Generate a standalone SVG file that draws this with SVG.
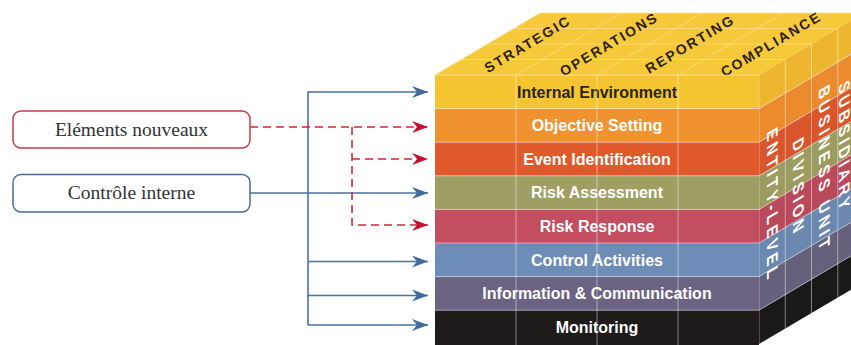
<svg xmlns="http://www.w3.org/2000/svg" width="851" height="345" viewBox="0 0 851 345">
  <style>
    .box { fill: #ffffff; stroke-width: 1.5; }
    .boxlabel { font-family: "Liberation Serif", "Times New Roman", serif; font-size: 19.5px; fill: #333333; text-anchor: middle; }
    .front { font-family: "Liberation Sans", Arial, sans-serif; font-weight: bold; font-size: 16px; fill: #ffffff; text-anchor: middle; }
    .toplabel { font-family: "Liberation Sans", Arial, sans-serif; font-weight: bold; font-size: 14px; fill: #2e2312; text-anchor: middle; letter-spacing: 2px; }
    .sidelabel { font-family: "Liberation Sans", Arial, sans-serif; font-weight: bold; font-size: 15.5px; fill: #ffffff; text-anchor: middle; letter-spacing: 3.5px; }
    .grid { stroke: #ffffff; stroke-opacity: 0.45; stroke-width: 1; fill: none; }
    .topgrid { stroke: #ffffff; stroke-opacity: 0.3; stroke-width: 1; fill: none; }
    .blue { stroke: #4a72a2; stroke-width: 1.6; fill: none; }
    .red { stroke: #cc2a3a; stroke-width: 1.6; fill: none; stroke-dasharray: 8 5; }
  </style>
  <defs>
    <marker id="arrowBlue" markerUnits="userSpaceOnUse" markerWidth="17" markerHeight="13" refX="16" refY="6" orient="auto">
      <path d="M0,0 L16,6 L0,12 L5,6 z" fill="#3f6a9a"/>
    </marker>
    <marker id="arrowRed" markerUnits="userSpaceOnUse" markerWidth="17" markerHeight="13" refX="16" refY="6" orient="auto">
      <path d="M0,0 L16,6 L0,12 L5,6 z" fill="#c8102e"/>
    </marker>
  </defs>

  <!-- Cube: top face (objective categories) -->
  <g id="cube-top">
    <polygon points="435,75 759,75 864,13 540,13" fill="#f6c93a"/>
    <path class="topgrid" d="M461,59.5 H785 M487.5,44 H811.5 M513.8,28.5 H837.8 M516,75 L621,13 M597,75 L702,13 M678,75 L783,13"/>
    <path d="M435,75 L540,13 H864" stroke="#fbe08a" stroke-width="1" fill="none" stroke-opacity="0.7"/>
    <text class="toplabel" transform="translate(527.5,44) rotate(-30.6)" dy="5">STRATEGIC</text>
    <text class="toplabel" transform="translate(609,44) rotate(-30.6)" dy="5">OPERATIONS</text>
    <text class="toplabel" transform="translate(690,44) rotate(-30.6)" dy="5">REPORTING</text>
    <text class="toplabel" transform="translate(771,44) rotate(-30.6)" dy="5">COMPLIANCE</text>
  </g>

  <!-- Cube: side face (organisation levels) -->
  <g id="cube-side">
    <polygon points="759,75 864,13 864,46.6 759,108.6" fill="#eeb52e"/>
    <polygon points="759,108.6 864,46.6 864,80.2 759,142.2" fill="#eb8b2d"/>
    <polygon points="759,142.2 864,80.2 864,113.8 759,175.8" fill="#d9552b"/>
    <polygon points="759,175.8 864,113.8 864,147.4 759,209.4" fill="#9c9b60"/>
    <polygon points="759,209.4 864,147.4 864,181 759,243" fill="#ba4a5b"/>
    <polygon points="759,243 864,181 864,214.6 759,276.6" fill="#6a88b0"/>
    <polygon points="759,276.6 864,214.6 864,248.2 759,310.2" fill="#65607b"/>
    <polygon points="759,310.2 864,248.2 864,282 759,344" fill="#1b1818"/>
    <path class="grid" d="M759,108.6 L864,46.6 M759,142.2 L864,80.2 M759,175.8 L864,113.8 M759,209.4 L864,147.4 M759,243 L864,181 M759,276.6 L864,214.6 M759,310.2 L864,248.2 M785.3,59.5 V328.5 M811.5,44 V313 M837.8,28.5 V297.5 M759,75 V344"/>
    <text class="sidelabel" transform="translate(766.5,208) skewY(-30.6) rotate(90)">ENTITY-LEVEL</text>
    <text class="sidelabel" transform="translate(792.5,190) skewY(-30.6) rotate(90)">DIVISION</text>
    <text class="sidelabel" transform="translate(818.5,172) skewY(-30.6) rotate(90)">BUSINESS UNIT</text>
    <text class="sidelabel" transform="translate(839,150) skewY(-30.6) rotate(90)">SUBSIDIARY</text>
  </g>

  <!-- Cube: front face (components) -->
  <g id="internal-environment">
    <rect x="435" y="75" width="324" height="33.6" fill="#f5c531"/>
    <text class="front" x="597" y="97.5" style="fill:#2a2418">Internal Environment</text>
  </g>
  <g id="objective-setting">
    <rect x="435" y="108.6" width="324" height="33.6" fill="#f0922f"/>
    <text class="front" x="597" y="131">Objective Setting</text>
  </g>
  <g id="event-identification">
    <rect x="435" y="142.2" width="324" height="33.6" fill="#df592b"/>
    <text class="front" x="597" y="164.7">Event Identification</text>
  </g>
  <g id="risk-assessment">
    <rect x="435" y="175.8" width="324" height="33.6" fill="#a09f63"/>
    <text class="front" x="597" y="198.3">Risk Assessment</text>
  </g>
  <g id="risk-response">
    <rect x="435" y="209.4" width="324" height="33.6" fill="#c24e5f"/>
    <text class="front" x="597" y="231.9">Risk Response</text>
  </g>
  <g id="control-activities">
    <rect x="435" y="243" width="324" height="33.6" fill="#6e8db6"/>
    <text class="front" x="597" y="265.5">Control Activities</text>
  </g>
  <g id="information-communication">
    <rect x="435" y="276.6" width="324" height="33.6" fill="#6c6282"/>
    <text class="front" x="597" y="299.1">Information &amp; Communication</text>
  </g>
  <g id="monitoring">
    <rect x="435" y="310.2" width="324" height="34.8" fill="#1f1b1b"/>
    <text class="front" x="597" y="332.7">Monitoring</text>
  </g>
  <path class="grid" d="M435,75 H759 M435,108.6 H759 M435,142.2 H759 M435,175.8 H759 M435,209.4 H759 M435,243 H759 M435,276.6 H759 M435,310.2 H759 M516,75 V345 M597,75 V345 M678,75 V345"/>

  <!-- Source boxes -->
  <g id="elements-nouveaux">
    <rect class="box" x="13" y="111" width="237" height="37" rx="8" stroke="#c43c48"/>
    <text class="boxlabel" x="131.5" y="135.5">Eléments nouveaux</text>
  </g>
  <g id="controle-interne">
    <rect class="box" x="13" y="174.5" width="237" height="37.5" rx="8" stroke="#4d6a92"/>
    <text class="boxlabel" x="131.5" y="199">Contrôle interne</text>
  </g>

  <!-- Connectors -->
  <g id="connectors">
    <path class="blue" d="M308,325 V92 H428" marker-end="url(#arrowBlue)"/>
    <path class="blue" d="M308,261.5 H428" marker-end="url(#arrowBlue)"/>
    <path class="blue" d="M308,295.5 H428" marker-end="url(#arrowBlue)"/>
    <path class="blue" d="M308,325 H428" marker-end="url(#arrowBlue)"/>
    <path class="blue" d="M250,193 H428" marker-end="url(#arrowBlue)"/>
    <path class="red" d="M250,127 H428" marker-end="url(#arrowRed)"/>
    <path class="red" d="M352,127 V225 H428" marker-end="url(#arrowRed)"/>
    <path class="red" d="M352,159 H428" marker-end="url(#arrowRed)"/>
  </g>
</svg>
